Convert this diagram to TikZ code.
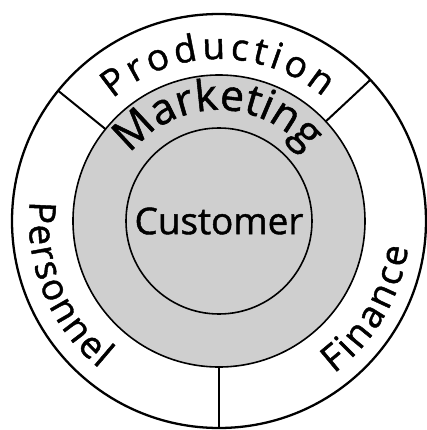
\documentclass[tikz,border=0pt]{standalone}
\usepackage{fontspec}
\setmainfont{Open Sans}[UprightFeatures={FakeBold=1.2}]
\usetikzlibrary{decorations.text}

\newcommand{\moyen}{\fontsize{37}{42}\selectfont}
\newcommand{\grand}{\fontsize{43}{48}\selectfont}

\tikzset{
  surarc/.style={decorate, decoration={text along path, text align=fit to path, text={#1}}},
  trait/.style={line width=1.6pt, black},
}

\begin{document}
\begin{tikzpicture}[x=1bp, y=1bp]
  \useasboundingbox (-219,-209) rectangle (208,221);

  % disque gris (marketing + client)
  \fill[gray!38] (0,0) circle (146);
  \draw[trait] (0,0) circle (146);
  \draw[trait] (0,0) circle (93);
  \draw[line width=2.3pt] (0,0) circle (207);

  % séparations de l'anneau extérieur
  \foreach \a in {43, 141, 270} { \draw[line width=2pt] (\a:146) -- (\a:207); }

  % textes en arc
  \path[surarc={|\moyen|Production}] (131:162) arc[start angle=131, end angle=50, radius=162];
  \path[surarc={|\grand|Marketing}] (143:111) arc[start angle=143, end angle=44, radius=111];
  \path[surarc={|\moyen|Personnel}] (174:190) arc[start angle=174, end angle=231, radius=190];
  \path[surarc={|\moyen|Finance}] (307:191) arc[start angle=307, end angle=352, radius=191];

  \node[font=\fontsize{37}{42}\selectfont] (client) at (0,0) {Customer};
\end{tikzpicture}
\end{document}
